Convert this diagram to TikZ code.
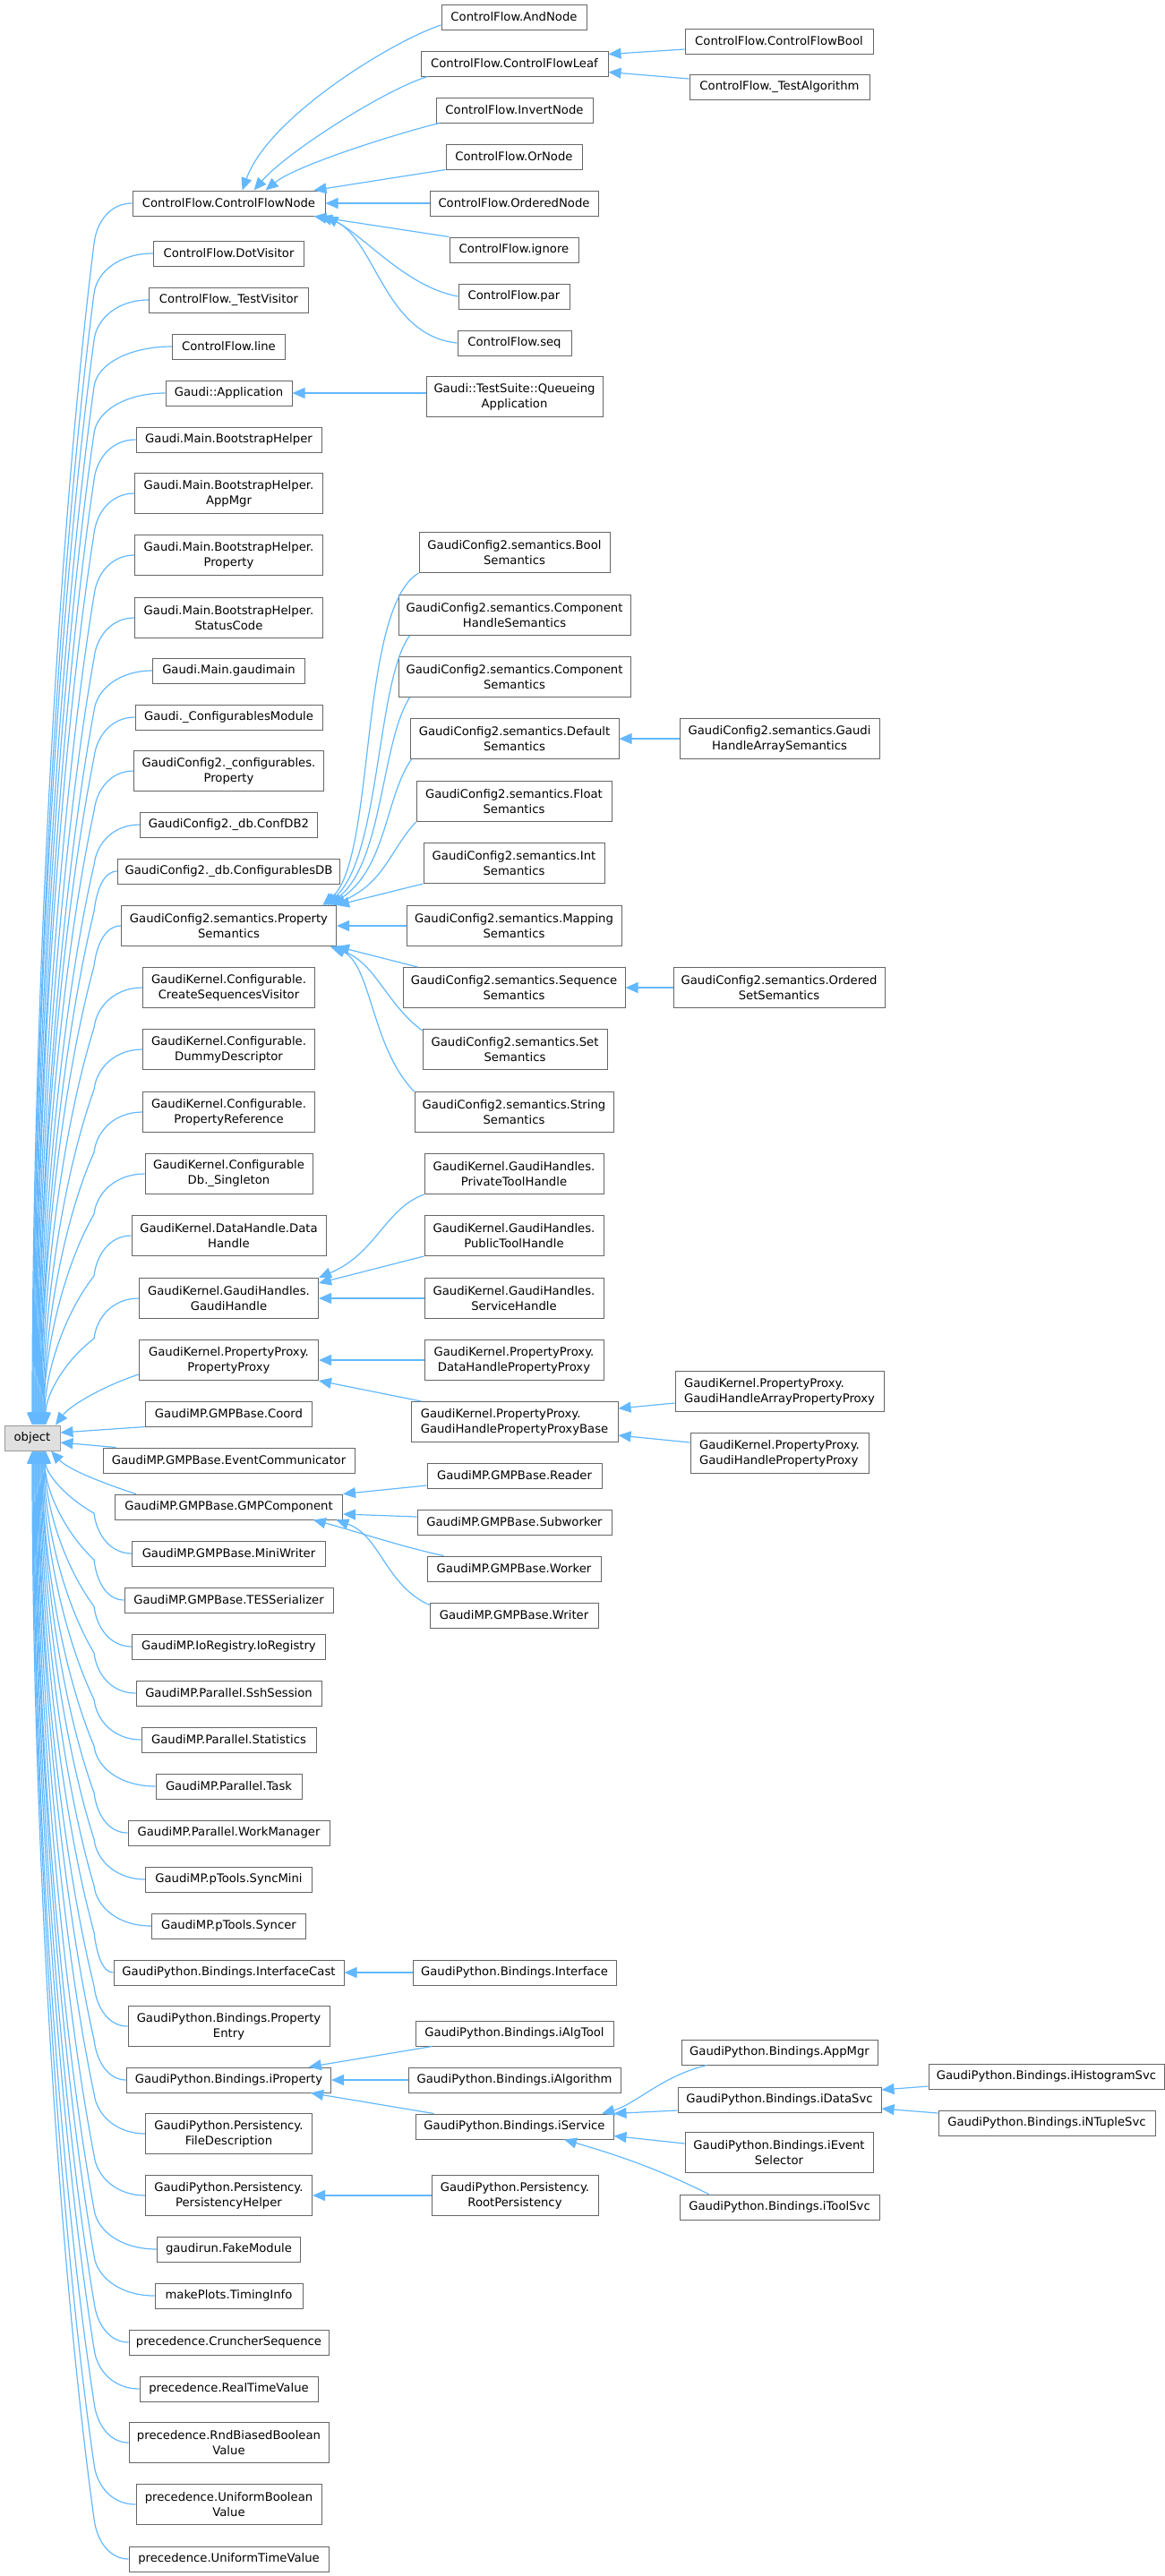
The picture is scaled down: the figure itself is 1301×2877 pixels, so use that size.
\documentclass[tikz,border=0pt]{standalone}
\usepackage{fontspec}
\newfontfamily\djfont{DejaVu Sans}
\usetikzlibrary{arrows.meta,calc}
\definecolor{edgec}{HTML}{63B8FF}
\definecolor{boxc}{HTML}{666666}
\definecolor{objb}{HTML}{999999}
\definecolor{objf}{HTML}{E0E0E0}
\begin{document}
\begin{tikzpicture}[x=0.5pt,y=-0.5pt,
  cls/.style={draw=boxc, fill=white, line width=0.5pt, font={\djfont\fontsize{6.6pt}{8.5pt}\selectfont}, inner xsep=2pt, inner ysep=1pt, minimum height=14pt, align=center},
  two/.style={minimum height=22.5pt},
  lft/.style={align=left},
  bw/.style={minimum width=#1*0.5pt},
  inh/.style={draw=edgec, line width=0.6pt, -{Triangle[length=7pt,width=6pt]}}]
\useasboundingbox (0,0) rectangle (1301,2877);

% root
\node[cls, draw=objb, fill=objf, bw=62] (obj) at (36,1606) {object};

% column 2
\node[cls,bw=215] (cfn) at (255.5,227) {ControlFlow.ControlFlowNode};
\node[cls,bw=168] (dotv) at (255.5,283) {ControlFlow.DotVisitor};
\node[cls,bw=178] (testv) at (255.5,335) {ControlFlow.\_TestVisitor};
\node[cls,bw=126] (cfline) at (255.5,387) {ControlFlow.line};
\node[cls,bw=141] (app) at (255.5,439) {Gaudi::Application};
\node[cls,bw=207] (bh) at (255.5,491) {Gaudi.Main.BootstrapHelper};
\node[cls,two,bw=210] (bhapp) at (255.5,551) {Gaudi.Main.BootstrapHelper.\\AppMgr};
\node[cls,two,bw=210] (bhprop) at (255.5,620) {Gaudi.Main.BootstrapHelper.\\Property};
\node[cls,two,bw=210] (bhsc) at (255.5,690) {Gaudi.Main.BootstrapHelper.\\StatusCode};
\node[cls,bw=170] (gmain) at (255.5,749) {Gaudi.Main.gaudimain};
\node[cls,bw=209] (cfgmod) at (255.5,801) {Gaudi.\_ConfigurablesModule};
\node[cls,two,bw=212] (cfgprop) at (255.5,861) {GaudiConfig2.\_configurables.\\Property};
\node[cls,bw=198] (confdb) at (255.5,921) {GaudiConfig2.\_db.ConfDB2};
\node[cls,bw=248] (cfgdb) at (255.5,973) {GaudiConfig2.\_db.ConfigurablesDB};
\node[cls,two,bw=240] (psem) at (255.5,1034) {GaudiConfig2.semantics.Property\\Semantics};
\node[cls,two,bw=192] (csv) at (255.5,1103) {GaudiKernel.Configurable.\\CreateSequencesVisitor};
\node[cls,two,bw=192] (dummy) at (255.5,1172) {GaudiKernel.Configurable.\\DummyDescriptor};
\node[cls,two,bw=192] (propref) at (255.5,1242) {GaudiKernel.Configurable.\\PropertyReference};
\node[cls,two,bw=187] (single) at (255.5,1311) {GaudiKernel.Configurable\\Db.\_Singleton};
\node[cls,two,bw=217] (dhandle) at (255.5,1380) {GaudiKernel.DataHandle.Data\\Handle};
\node[cls,two,bw=200] (ghandle) at (255.5,1450) {GaudiKernel.GaudiHandles.\\GaudiHandle};
\node[cls,two,bw=200] (pp) at (255.5,1519) {GaudiKernel.PropertyProxy.\\PropertyProxy};
\node[cls,bw=186] (coord) at (255.5,1579) {GaudiMP.GMPBase.Coord};
\node[cls,bw=281] (evc) at (255.5,1631) {GaudiMP.GMPBase.EventCommunicator};
\node[cls,bw=254] (gmpc) at (255.5,1683) {GaudiMP.GMPBase.GMPComponent};
\node[cls,bw=216] (miniw) at (255.5,1735) {GaudiMP.GMPBase.MiniWriter};
\node[cls,bw=233] (tes) at (255.5,1787) {GaudiMP.GMPBase.TESSerializer};
\node[cls,bw=216] (ioreg) at (255.5,1839) {GaudiMP.IoRegistry.IoRegistry};
\node[cls,bw=207] (ssh) at (255.5,1891) {GaudiMP.Parallel.SshSession};
\node[cls,bw=195] (stats) at (255.5,1943) {GaudiMP.Parallel.Statistics};
\node[cls,bw=163] (task) at (255.5,1995) {GaudiMP.Parallel.Task};
\node[cls,bw=225] (wm) at (255.5,2047) {GaudiMP.Parallel.WorkManager};
\node[cls,bw=186] (syncmini) at (255.5,2099) {GaudiMP.pTools.SyncMini};
\node[cls,bw=172] (syncer) at (255.5,2151) {GaudiMP.pTools.Syncer};
\node[cls,bw=257] (icast) at (255.5,2203) {GaudiPython.Bindings.InterfaceCast};
\node[cls,two,bw=225] (pentry) at (255.5,2263) {GaudiPython.Bindings.Property\\Entry};
\node[cls,bw=228] (iprop) at (255.5,2323) {GaudiPython.Bindings.iProperty};
\node[cls,two,bw=186] (filedesc) at (255.5,2383) {GaudiPython.Persistency.\\FileDescription};
\node[cls,two,bw=186] (persh) at (255.5,2452) {GaudiPython.Persistency.\\PersistencyHelper};
\node[cls,bw=160] (fake) at (255.5,2512) {gaudirun.FakeModule};
\node[cls,bw=165] (timing) at (255.5,2564) {makePlots.TimingInfo};
\node[cls,bw=223] (cruncher) at (255.5,2616) {precedence.CruncherSequence};
\node[cls,bw=199] (realtime) at (255.5,2668) {precedence.RealTimeValue};
\node[cls,two,bw=223] (rndbias) at (255.5,2728) {precedence.RndBiasedBoolean\\Value};
\node[cls,two,bw=207] (unibool) at (255.5,2797) {precedence.UniformBoolean\\Value};
\node[cls,bw=223] (unitime) at (255.5,2858) {precedence.UniformTimeValue};

% column 3
\node[cls,bw=162] (andn) at (574,19) {ControlFlow.AndNode};
\node[cls,bw=209] (leaf) at (574.5,71) {ControlFlow.ControlFlowLeaf};
\node[cls,bw=175] (invert) at (574.5,123) {ControlFlow.InvertNode};
\node[cls,bw=152] (ornode) at (574,175) {ControlFlow.OrNode};
\node[cls,bw=188] (ordered) at (574,227) {ControlFlow.OrderedNode};
\node[cls,bw=144] (ignore) at (574,279) {ControlFlow.ignore};
\node[cls,bw=124] (parn) at (574,331) {ControlFlow.par};
\node[cls,bw=127] (seqn) at (574.5,383) {ControlFlow.seq};
\node[cls,two,bw=197] (queue) at (574.5,443) {Gaudi::TestSuite::Queueing\\Application};
\node[cls,two,bw=213] (boolsem) at (574.5,617) {GaudiConfig2.semantics.Bool\\Semantics};
\node[cls,two,bw=259] (comph) at (574.5,687) {GaudiConfig2.semantics.Component\\HandleSemantics};
\node[cls,two,bw=259] (comp) at (574.5,756) {GaudiConfig2.semantics.Component\\Semantics};
\node[cls,two,bw=233] (defsem) at (574.5,825) {GaudiConfig2.semantics.Default\\Semantics};
\node[cls,two,bw=218] (floatsem) at (574,895) {GaudiConfig2.semantics.Float\\Semantics};
\node[cls,two,bw=202] (intsem) at (574,964) {GaudiConfig2.semantics.Int\\Semantics};
\node[cls,two,bw=240] (mapsem) at (574,1034) {GaudiConfig2.semantics.Mapping\\Semantics};
\node[cls,two,bw=248] (seqsem) at (574,1103) {GaudiConfig2.semantics.Sequence\\Semantics};
\node[cls,two,bw=206] (setsem) at (575,1172) {GaudiConfig2.semantics.Set\\Semantics};
\node[cls,two,bw=222] (strsem) at (574,1242) {GaudiConfig2.semantics.String\\Semantics};
\node[cls,two,bw=200] (private) at (574,1311) {GaudiKernel.GaudiHandles.\\PrivateToolHandle};
\node[cls,two,bw=200] (public) at (574,1380) {GaudiKernel.GaudiHandles.\\PublicToolHandle};
\node[cls,two,bw=200] (service) at (574,1450) {GaudiKernel.GaudiHandles.\\ServiceHandle};
\node[cls,two,bw=200] (dhpp) at (574,1519) {GaudiKernel.PropertyProxy.\\DataHandlePropertyProxy};
\node[cls,two,lft,bw=231] (ghppb) at (574.5,1588) {GaudiKernel.PropertyProxy.\\GaudiHandlePropertyProxyBase};
\node[cls,bw=195] (reader) at (574.5,1648) {GaudiMP.GMPBase.Reader};
\node[cls,bw=217] (subw) at (574.5,1700) {GaudiMP.GMPBase.Subworker};
\node[cls,bw=194] (worker) at (574,1752) {GaudiMP.GMPBase.Worker};
\node[cls,bw=188] (writer) at (574,1804) {GaudiMP.GMPBase.Writer};
\node[cls,bw=227] (iface) at (574.5,2203) {GaudiPython.Bindings.Interface};
\node[cls,bw=221] (ialgtool) at (574.5,2271) {GaudiPython.Bindings.iAlgTool};
\node[cls,bw=237] (ialgo) at (574.5,2323) {GaudiPython.Bindings.iAlgorithm};
\node[cls,bw=221] (isvc) at (574.5,2375) {GaudiPython.Bindings.iService};
\node[cls,two,bw=186] (rootp) at (575,2452) {GaudiPython.Persistency.\\RootPersistency};

% column 4
\node[cls,bw=210] (cfbool) at (870,46) {ControlFlow.ControlFlowBool};
\node[cls,bw=201] (testalg) at (870.5,97) {ControlFlow.\_TestAlgorithm};
\node[cls,two,bw=223] (hasem) at (870.5,825) {GaudiConfig2.semantics.Gaudi\\HandleArraySemantics};
\node[cls,two,bw=236] (ordset) at (870,1103) {GaudiConfig2.semantics.Ordered\\SetSemantics};
\node[cls,two,lft,bw=233] (ghapp) at (870.5,1554) {GaudiKernel.PropertyProxy.\\GaudiHandleArrayPropertyProxy};
\node[cls,two,lft,bw=199] (ghpp) at (870.5,1623) {GaudiKernel.PropertyProxy.\\GaudiHandlePropertyProxy};
\node[cls,bw=219] (appmgr) at (870.5,2292) {GaudiPython.Bindings.AppMgr};
\node[cls,bw=227] (idsvc) at (870.5,2345) {GaudiPython.Bindings.iDataSvc};
\node[cls,two,bw=210] (ievsel) at (870,2404) {GaudiPython.Bindings.iEvent\\Selector};
\node[cls,bw=223] (itsvc) at (870.5,2465) {GaudiPython.Bindings.iToolSvc};

% column 5
\node[cls,bw=263] (ihist) at (1168.5,2319) {GaudiPython.Bindings.iHistogramSvc};
\node[cls,bw=242] (intup) at (1169,2371) {GaudiPython.Bindings.iNTupleSvc};

% ---- edges to object (from above): quick turn, then long drift to the top of object
\foreach \nm/\ca/\py/\aa/\bb/\kk/\sh in {
  cfn/24/272/41/330/462/0pt, dotv/37/328/41/316/442/0.5pt, testv/34/380/41/303/424/0.5pt,
  cfline/48/432/40/290/406/1pt, app/44/484/40/277/388/1.5pt, bh/26/536/39/264/370/2pt,
  bhapp/25/596/39/249/349/2pt, bhprop/25/665/38/232/324/2.5pt, bhsc/25/735/38/214/300/3pt,
  gmain/36/794/37/200/279/3.5pt, cfgmod/25/846/37/187/261/3.5pt, cfgprop/25/906/37/172/240/4pt,
  confdb/29/966/36/157/219/4.5pt, cfgdb/15/1018/35/144/201/5pt, psem/17/1079/35/128/180/5pt,
  csv/30/1148/35/111/155/5.5pt, dummy/30/1217/34/94/131/6pt, propref/30/1287/34/76/107/6.5pt,
  single/31/1356/34/59/83/6.5pt, dhandle/23/1425/33/42/58/7pt, ghandle/28/1495/32/24/34/7.5pt}
  \draw[inh] (\nm.west) .. controls +(-\ca,0) and +(3,-25) .. (105,\py)
     .. controls +(-\aa,\bb) and +(0,-\kk) .. ([xshift=\sh]obj.north);
% ---- edges to object (from below)
\foreach \nm/\ca/\py/\aa/\bb/\kk/\sh in {
  miniw/23/1690/32/18/25/7.5pt, tes/19/1742/33/31/43/7pt, ioreg/23/1794/33/44/61/7pt,
  ssh/26/1846/34/57/79/6.5pt, stats/29/1898/34/70/97/6pt, task/38/1950/35/83/116/5.5pt,
  wm/21/2002/35/96/134/5.5pt, syncmini/31/2054/35/109/152/5pt, syncer/36/2106/36/122/170/4.5pt,
  icast/12/2158/37/135/188/4pt, pentry/21/2218/37/150/209/3.5pt, iprop/20/2278/37/165/230/3.5pt,
  filedesc/31/2338/38/180/251/3pt, persh/31/2407/38/197/275/2.5pt, fake/39/2467/39/212/296/2pt,
  timing/37/2519/39/225/315/2pt, cruncher/21/2571/40/238/333/1.5pt, realtime/28/2623/40/251/351/1pt,
  rndbias/21/2683/41/266/372/0.5pt, unibool/26/2752/41/283/396/0.5pt, unitime/21/2813/41/298/418/0pt}
  \draw[inh] (\nm.west) .. controls +(-\ca,0) and +(3,25) .. (105,\py)
     .. controls +(-\aa,-\bb) and +(0,\kk) .. ([xshift=\sh]obj.south);
% ---- near edges to object
\draw[inh] ([yshift=-8pt]pp.west) .. controls (115,1548) and (78,1570) .. ([xshift=13pt]obj.north);
\draw[inh] (coord.south west) -- ([yshift=3pt]obj.east);
\draw[inh] ($(evc.north west)+(15,0)$) -- ([yshift=-2.5pt]obj.east);
\draw[inh] ($(gmpc.north west)+(24,0)$) .. controls (110,1655) and (75,1640) .. ([xshift=10.5pt]obj.south);

% ---- ControlFlowNode group
\draw[inh] ([yshift=-4.5pt]andn.west) .. controls (440,45) and (300,130) .. ($(cfn.north west)!0.57!(cfn.north east)$);
\draw[inh] ($(leaf.south west)+(8,0)$) .. controls (430,100) and (320,170) .. ($(cfn.north west)!0.63!(cfn.north east)$);
\draw[inh] ($(invert.south west)+(4,0)$) .. controls (440,150) and (330,185) .. ($(cfn.north west)!0.69!(cfn.north east)$);
\draw[inh] (ornode.south west) -- ($(cfn.north west)!0.94!(cfn.north east)$);
\draw[inh] (ordered.west) -- (cfn.east);
\draw[inh] (ignore.north west) -- ($(cfn.south west)!0.94!(cfn.south east)$);
\draw[inh] (parn.west) .. controls (450,320) and (400,255) .. ($(cfn.south west)!0.97!(cfn.south east)$);
\draw[inh] (seqn.west) .. controls (430,375) and (420,270) .. (cfn.south east);
% ControlFlowLeaf
\draw[inh] ([yshift=-4.5pt]cfbool.west) -- ([yshift=-2pt]leaf.north east);
\draw[inh] ([yshift=4.5pt]testalg.west) -- ([yshift=2.5pt]leaf.south east);
% Gaudi::Application
\draw[inh] (queue.west |- app.east) -- (app.east);

% ---- PropertySemantics group
\draw[inh] (boolsem.south west) .. controls (400,680) and (420,960) .. ($(psem.north west)!0.935!(psem.north east)$);
\draw[inh] ($(comph.south west)+(13,0)$) .. controls (420,760) and (425,960) .. ($(psem.north west)!0.946!(psem.north east)$);
\draw[inh] ($(comp.south west)+(13,0)$) .. controls (425,830) and (428,965) .. ($(psem.north west)!0.958!(psem.north east)$);
\draw[inh] ($(defsem.south west)+(2,0)$) .. controls (430,890) and (432,970) .. ($(psem.north west)!0.971!(psem.north east)$);
\draw[inh] (floatsem.south west) .. controls (435,950) and (430,985) .. ($(psem.north west)!0.983!(psem.north east)$);
\draw[inh] (intsem.south west) -- (psem.north east);
\draw[inh] (mapsem.west) -- (psem.east);
\draw[inh] ($(seqsem.north west)+(17,0)$) -- (psem.south east);
\draw[inh] ($(setsem.north west)+(0,2)$) .. controls (430,1120) and (420,1075) .. ($(psem.south west)!0.97!(psem.south east)$);
\draw[inh] (strsem.north west) .. controls (415,1170) and (415,1080) .. ($(psem.south west)!0.985!(psem.south east)$);
\draw[inh] (hasem.west) -- (defsem.east);
\draw[inh] (ordset.west) -- (seqsem.east);

% ---- GaudiHandle group
\draw[inh] (private.south west) .. controls (430,1350) and (420,1400) .. (ghandle.north east);
\draw[inh] (public.south west) -- ([yshift=-3pt]ghandle.north east);
\draw[inh] (service.west) -- (ghandle.east);

% ---- PropertyProxy group
\draw[inh] (dhpp.west) -- (pp.east);
\draw[inh] ($(ghppb.north west)+(12,0)$) -- (pp.south east);
\draw[inh] ([yshift=-6.5pt]ghapp.west) -- ([yshift=-4pt]ghppb.north east);
\draw[inh] ([yshift=6pt]ghpp.west) -- ([yshift=4pt]ghppb.south east);

% ---- GMPComponent group
\draw[inh] ([yshift=-5.5pt]reader.west) -- (gmpc.north east);
\draw[inh] ([yshift=3pt]subw.west) -- ([yshift=-4pt]gmpc.east);
\draw[inh] ($(worker.north west)+(19,0)$) .. controls (450,1728) and (390,1708) .. ($(gmpc.south west)!0.87!(gmpc.south east)$);
\draw[inh] ($(writer.north west)+(0,3)$) .. controls (430,1770) and (425,1715) .. ($(gmpc.south west)!0.97!(gmpc.south east)$);

% ---- GaudiPython
\draw[inh] (iface.west) -- (icast.east);
\draw[inh] ($(ialgtool.south west)+(19,0)$) -- ($(iprop.north west)!0.89!(iprop.north east)$);
\draw[inh] (ialgo.west) -- (iprop.east);
\draw[inh] ($(isvc.north west)+(21,0)$) -- ($(iprop.south west)!0.9!(iprop.south east)$);
\draw[inh] ($(appmgr.south west)+(29,0)$) .. controls (740,2318) and (710,2350) .. ($(isvc.north west)!0.94!(isvc.north east)$);
\draw[inh] ([yshift=-6pt]idsvc.west) -- (isvc.north east);
\draw[inh] ([yshift=5pt]ievsel.west) -- ([yshift=2pt]isvc.south east);
\draw[inh] ($(itsvc.north west)+(33,0)$) .. controls (740,2425) and (700,2410) .. ($(isvc.south west)!0.75!(isvc.south east)$);
\draw[inh] ([yshift=-5.5pt]ihist.west) -- ([yshift=5.5pt]idsvc.east);
\draw[inh] ([yshift=5.5pt]intup.west) -- ([yshift=-5pt]idsvc.east);
\draw[inh] (rootp.west) -- (persh.east);
\end{tikzpicture}
\end{document}
